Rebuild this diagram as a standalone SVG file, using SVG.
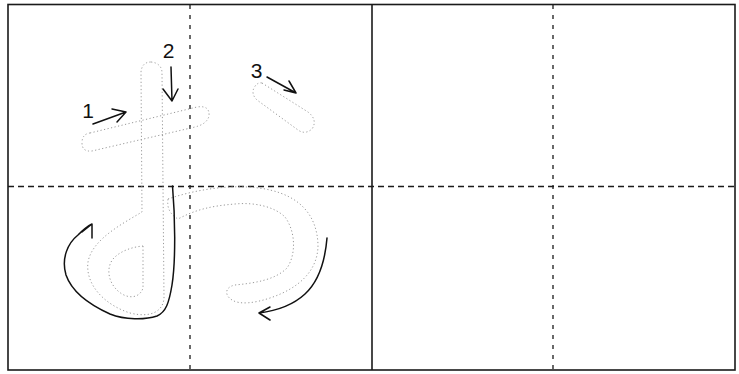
<svg xmlns="http://www.w3.org/2000/svg" width="739" height="374" viewBox="0 0 739 374">
<style>
.frame{fill:none;stroke:#1a1a1a;stroke-width:1.6}
.dh{fill:none;stroke:#1a1a1a;stroke-width:1.3;stroke-dasharray:6 4}
.dv{fill:none;stroke:#1a1a1a;stroke-width:1.3;stroke-dasharray:4 6}
.guide{fill:none;stroke:#9a9a9a;stroke-width:1;stroke-dasharray:1.2 2.4}
.arr{fill:none;stroke:#111;stroke-width:1.5;stroke-linecap:round;stroke-linejoin:round}
.num{font-family:"Liberation Sans",Arial,sans-serif;font-size:21px;fill:#111;text-anchor:middle}
</style>
<g id="grid">
<rect class="frame" x="8" y="4.5" width="727" height="365.5"/>
<line class="frame" x1="372" y1="4.5" x2="372" y2="370"/>
<line class="dh" x1="8" y1="186.5" x2="735" y2="186.5"/>
<line class="dv" x1="190" y1="5" x2="190" y2="370"/>
<line class="dv" x1="553" y1="5" x2="553" y2="370"/>
</g>
<g id="guides">
<path id="stroke1" class="guide" d="M 90,133 L 197,107 Q 210,105 209,116 Q 207,124 195,127 L 92,151 Q 82,152 82,143 Q 82,134 90,133 Z"/>
<path id="stroke2" class="guide" d="M 151,62 Q 161,63 162,72 L 164,298 C 163,312 150,318 130,313 C 105,305 85,285 88,262 C 92,240 120,225 142,212 L 141,72 Q 142,62 151,62 Z"/>
<path id="stroke2-inner" class="guide" d="M 143,246 L 143,288 C 140,298 128,300 118,291 C 108,282 106,268 113,259 C 120,251 132,247 143,246 Z"/>
<path id="stroke3-dot" class="guide" d="M 262,83 L 308,112 Q 318,120 312,129 Q 305,135 298,130 L 257,100 Q 251,94 254,88 Q 257,82 262,83 Z"/>
<path id="stroke3" class="guide" d="M 168,199 C 200,188 240,183 270,190 C 300,197 317,215 318,245 C 318,270 300,288 270,298 C 255,303 240,305 232,300 C 224,295 225,287 235,285 C 255,283 275,280 287,268 C 296,255 296,232 285,217 C 275,207 255,202 235,204 C 210,206 195,210 178,219 Q 166,212 168,199 Z"/>
</g>
<g id="connectors">
<path class="arr" d="M 93,124 L 126,112 M 112,109 L 126,112 L 117,122"/>
<path class="arr" d="M 171,67 L 172,101 M 163,89 L 172,101 L 178,89"/>
<path class="arr" d="M 267,77 L 296,93 M 284,90 L 296,93 L 289,81"/>
<path class="arr" d="M 172.5,186 C 175,215 176,260 172,285 C 169,303 166,312 157,316 C 145,320 125,320 110,314 C 90,305 72,292 66,275 C 61,258 68,243 78,235 C 84,229 88,226 92,224 M 92,238 L 92,224 L 82,232"/>
<path class="arr" d="M 327,238 C 325,262 318,282 305,294 C 292,306 275,311 259,313 M 270,307 L 259,313 L 270,320"/>
</g>
<g id="labels">
<text class="num" x="88" y="118">1</text>
<text class="num" x="168.5" y="58">2</text>
<text class="num" x="256.5" y="78">3</text>
</g>
</svg>
